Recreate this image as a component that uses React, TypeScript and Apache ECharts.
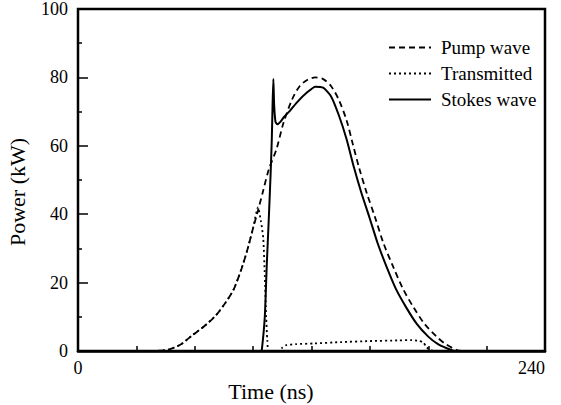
import React, { useEffect, useRef } from "react";
import * as echarts from "echarts";

const xTicks = [0, 30, 60, 90, 120, 150, 180, 210, 240];
const yTicks = [0, 20, 40, 60, 80, 100];

const pumpTime = [0, 40, 47, 53, 59, 65, 71, 76, 80, 84, 87, 90, 92, 95, 98, 102, 105.5, 110, 114, 118, 122, 126, 130, 134, 138, 141, 144.4, 148.5, 152.6, 157, 162, 167, 172.3, 178, 184.3, 189, 194.6, 198, 240];
const pumpPower = [0, 0, 0.5, 2, 4.7, 7.3, 10.5, 14.3, 18, 24, 29.5, 36, 40, 46.5, 53, 59, 66.5, 73.5, 77.5, 79.3, 80, 79.5, 77.5, 73.5, 67.5, 61, 53.7, 46, 39.2, 31.5, 24.6, 18.2, 12.9, 8, 4.2, 2, 0.3, 0, 0];

const transTime = [0, 40, 47, 53, 59, 65, 71, 76, 80, 84, 87, 90, 92.5, 94, 95.2, 96, 96.7, 97.3, 98, 103.5, 105, 107, 112, 121, 135, 150, 165, 171, 175, 177.5, 179, 181, 183, 240];
const transPower = [0, 0, 0.5, 2, 4.7, 7.3, 10.5, 14.3, 18, 24, 29.5, 36, 42, 38, 33, 22, 10, 3, 0, 0, 1, 1.7, 2, 2.2, 2.6, 2.9, 3.1, 3.2, 3, 2.5, 1.2, 0.3, 0, 0];

const stokesTime = [0, 94, 94.5, 96, 97, 98, 99, 99.6, 100, 100.4, 100.8, 101.5, 102.5, 104, 106, 109, 113, 117.5, 122, 126, 130, 134, 138, 141.8, 145.5, 149.7, 154, 158.6, 163.5, 168.5, 174, 180, 185, 189.5, 193, 196, 240];
const stokesPower = [0, 0, 0.5, 10, 25, 38, 52, 62, 72, 79.5, 72, 67, 66.3, 67, 68.5, 70.3, 73, 75.5, 77.3, 77, 74.5, 69, 62, 53.7, 46.5, 39.2, 31.5, 24.6, 18, 12.9, 8, 4.2, 2, 0.8, 0.1, 0, 0];

const seriesNames = ["Pump wave", "Transmitted", "Stokes wave"];
const xTitle = "Time (ns)";
const yTitle = "Power (kW)";

const zip = (a: number[], b: number[]) => a.map((v, i) => [v, b[i]]);

const FONT = "Liberation Serif";

export default function App() {
  const ref = useRef<HTMLDivElement>(null);
  useEffect(() => {
    if (!ref.current) return;
    const chart = echarts.init(ref.current, null, { renderer: "svg" });
    const xMin = xTicks[0];
    const xMax = xTicks[xTicks.length - 1];
    const xInterval = xTicks[1] - xTicks[0];
    const yMin = yTicks[0];
    const yMax = yTicks[yTicks.length - 1];
    const yInterval = yTicks[1] - yTicks[0];
    chart.setOption({
      animation: false,
      backgroundColor: "#ffffff",
      grid: {
        left: 78,
        right: 16,
        top: 8,
        bottom: 54,
        show: true,
        borderColor: "#000",
        borderWidth: 2.5,
        backgroundColor: "transparent",
      },
      legend: {
        data: seriesNames,
        orient: "vertical",
        left: 383,
        top: 33,
        itemWidth: 42,
        itemHeight: 14,
        itemGap: 7,
        align: "left",
        itemStyle: { color: "rgba(0,0,0,0)", borderWidth: 0, opacity: 0 },
        textStyle: {
          fontFamily: FONT,
          fontSize: 19,
          color: "#000",
          padding: [0, 0, 0, 5],
        },
      },
      xAxis: {
        type: "value",
        min: xMin,
        max: xMax,
        interval: xInterval,
        splitLine: { show: false },
        axisLine: { show: true, lineStyle: { color: "#000", width: 2.5 } },
        axisTick: { show: true, inside: true, length: 5, lineStyle: { color: "#000", width: 1.5 } },
        axisLabel: {
          color: "#000",
          fontFamily: FONT,
          fontSize: 18,
          margin: 8,
          alignMaxLabel: "right",
          formatter: (v: number) => (v === xMin || v === xMax ? String(v) : ""),
        },
      },
      yAxis: {
        type: "value",
        min: yMin,
        max: yMax,
        interval: yInterval,
        splitLine: { show: false },
        axisLine: { show: true, lineStyle: { color: "#000", width: 2 } },
        axisTick: { show: true, inside: true, length: 10, lineStyle: { color: "#000", width: 1.5 } },
        minorTick: { show: true, splitNumber: 2, length: 4, lineStyle: { color: "#000", width: 1.5 } },
        axisLabel: {
          color: "#000",
          fontFamily: FONT,
          fontSize: 18,
          margin: 10,
        },
      },
      graphic: [
        {
          type: "text",
          x: 271,
          y: 391,
          style: {
            text: xTitle,
            font: `22px ${FONT}`,
            fill: "#000",
            textAlign: "center",
            textVerticalAlign: "middle",
          },
        },
        {
          type: "text",
          x: 17,
          y: 192,
          rotation: Math.PI / 2,
          style: {
            text: yTitle,
            font: `22px ${FONT}`,
            fill: "#000",
            textAlign: "center",
            textVerticalAlign: "middle",
          },
        },
      ],
      series: [
        {
          name: seriesNames[0],
          type: "line",
          data: zip(pumpTime, pumpPower),
          symbol: "none",
          smooth: 0.3,
          lineStyle: { color: "#000", width: 1.8, type: [6, 4] },
          itemStyle: { color: "#000" },
          z: 2,
        },
        {
          name: seriesNames[1],
          type: "line",
          data: zip(transTime, transPower),
          symbol: "none",
          smooth: 0.2,
          lineStyle: { color: "#000", width: 1.8, type: [2, 3] },
          itemStyle: { color: "#000" },
          z: 3,
        },
        {
          name: seriesNames[2],
          type: "line",
          data: zip(stokesTime, stokesPower),
          symbol: "none",
          smooth: 0.2,
          lineStyle: { color: "#000", width: 2 },
          itemStyle: { color: "#000" },
          z: 4,
        },
      ],
    });
    return () => chart.dispose();
  }, []);
  return <div ref={ref} style={{ width: 561, height: 405, position: "absolute", left: 0, top: 0 }} />;
}
